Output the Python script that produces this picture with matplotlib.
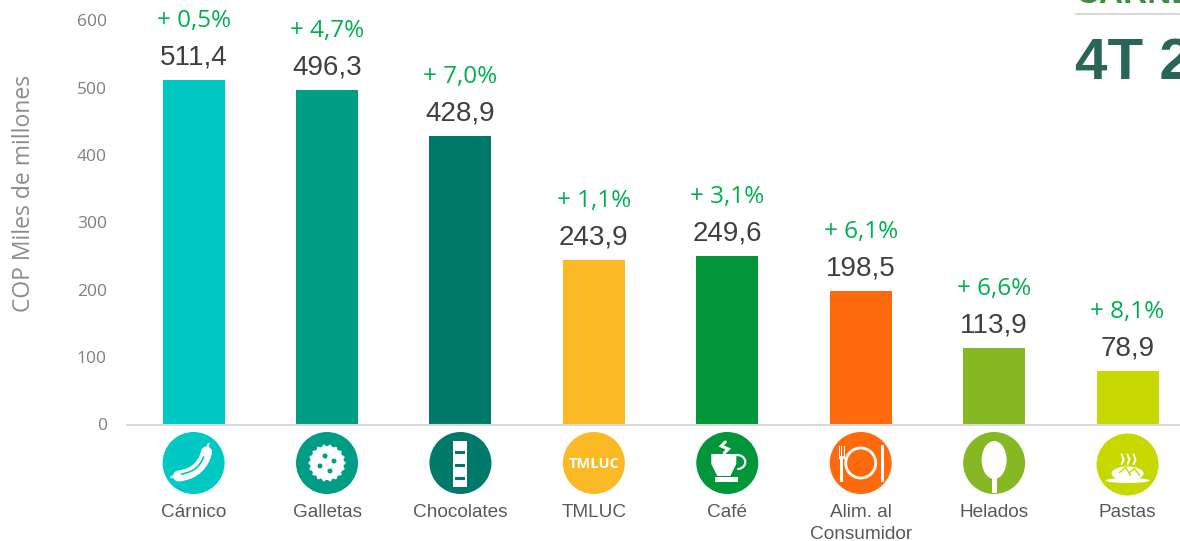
import math
import matplotlib
matplotlib.use("Agg")
import matplotlib.pyplot as plt
from matplotlib.patches import Ellipse, Rectangle, PathPatch, Circle, Arc
from matplotlib.path import Path

categories = ["Cárnico", "Galletas", "Chocolates", "TMLUC", "Café",
              "Alim. al\nConsumidor", "Helados", "Pastas"]
values = [511.4, 496.3, 428.9, 243.9, 249.6, 198.5, 113.9, 78.9]
changes = ["+ 0,5%", "+ 4,7%", "+ 7,0%", "+ 1,1%", "+ 3,1%", "+ 6,1%", "+ 6,6%", "+ 8,1%"]
colors = ["#00C8C3", "#009D85", "#00796B", "#FBB925", "#009639", "#FF6A0D", "#85B823", "#C5D900"]
yticks = [0, 100, 200, 300, 400, 500, 600]

W, H = 1180, 541
fig = plt.figure(figsize=(W / 100, H / 100), dpi=100)
ax = fig.add_axes([127 / W, 1 - 424.5 / H, 1053 / W, 404 / H])

x = range(len(categories))
ax.bar(x, values, width=0.465, color=colors)
ax.set_xlim(-0.499, 7.393)
ax.set_ylim(0, 600)

# etiquetas de valor y variacion
for i, v in enumerate(values):
    ax.annotate(f"{v:.1f}".replace(".", ","), (i, v), xytext=(0, 11.3), textcoords="offset points",
                ha="center", va="baseline", fontsize=20, color="#404040", family="Liberation Sans")
    ax.annotate(changes[i], (i, v), xytext=(0, 38.3), textcoords="offset points",
                ha="center", va="baseline", fontsize=17.5, color="#00B050", family="Open Sans",
                annotation_clip=False)

# ejes
for s in ["top", "right", "left"]:
    ax.spines[s].set_visible(False)
ax.spines["bottom"].set_color("#D9D9D9")
ax.spines["bottom"].set_linewidth(1.5)
ax.set_yticks(yticks)
ax.tick_params(axis="y", length=0, pad=14.5, labelsize=12.5, labelcolor="#7F7F7F")
for t in ax.get_yticklabels():
    t.set_family("Open Sans")
ax.set_xticks(list(x))
ax.set_xticklabels(categories, fontsize=13.7, color="#595959", family="Liberation Sans", linespacing=1.33)
ax.tick_params(axis="x", length=0, pad=57.4)
fig.text(24 / W, 1 - 193 / H, "COP Miles de millones", rotation=90, ha="center", va="center",
         fontsize=16.5, color="#8C8C8C", family="Open Sans")

# titulo cortado a la derecha
fig.text(1075 / W, 1 - 80 / H, "4T 2018", fontsize=42, fontweight="bold", color="#2A6658",
         family="Liberation Sans", ha="left", va="baseline")
fig.text(1076 / W, 1 - 3 / H, "CARNE", fontsize=24, fontweight="bold", color="#3E8E41",
         family="Liberation Sans", ha="left", va="baseline")
fig.add_artist(plt.Line2D([1076 / W, 1], [1 - 13.5 / H, 1 - 13.5 / H], color="#D0D0D0", lw=1.2))

# capa de iconos en pixeles
ic = fig.add_axes([0, 0, 1, 1], zorder=3)
ic.set_xlim(0, W)
ic.set_ylim(H, 0)
ic.axis("off")
ic.patch.set_alpha(0)
WHITE = "white"
CURVE = [Path.MOVETO, Path.CURVE4, Path.CURVE4, Path.CURVE4]


def stroke(pts, lw, color=WHITE, codes=None):
    ic.add_patch(PathPatch(Path(pts, codes), fc="none", ec=color, lw=lw, capstyle="round"))


def sausage(c, y, col):
    stroke([(c - 15, y + 13), (c + 2, y + 11), (c + 10, y + 1), (c + 13, y - 11)], 8, codes=CURVE)
    stroke([(c - 12, y + 11), (c + 1, y + 9), (c + 7, y + 2), (c + 10, y - 6)], 1.2, col, CURVE)
    stroke([(c + 13, y - 14), (c + 15, y - 19)], 1.5)
    stroke([(c - 18, y + 13), (c - 22, y + 14)], 2)


def cookie(c, y, col):
    ic.add_patch(Circle((c, y), 17, fc=WHITE, ec="none"))
    for k in range(18):
        a = 2 * math.pi * k / 18
        ic.add_patch(Circle((c + 17 * math.cos(a), y + 17 * math.sin(a)), 1.6, fc=WHITE, ec="none"))
    for dx, dy in [(-2, -7), (7, -2), (-7, 3), (3, 8)]:
        ic.add_patch(Circle((c + dx, y + dy), 2.5, fc=col, ec="none"))


def choco(c, y, col):
    ic.add_patch(Rectangle((c - 7, y - 22), 14, 46, fc=WHITE, ec="none"))
    for dy in [-11, 2, 15]:
        ic.add_patch(Rectangle((c - 5, y + dy - 1.5), 10, 3, fc=col, ec="none"))


def tmluc(c, y, col):
    ic.text(c, y + 1, "TMLUC", color=WHITE, fontsize=10.5, fontweight="bold", ha="center", va="center",
            family="Open Sans")


def cup(c, y, col):
    pts = [(c - 16, y - 9), (c + 9, y - 9), (c + 9, y + 1), (c + 3, y + 13), (c - 10, y + 13), (c - 16, y + 1)]
    ic.add_patch(PathPatch(Path(pts + [pts[0]], closed=True), fc=WHITE, ec="none"))
    ic.add_patch(Arc((c + 10, y - 1), 16, 14, theta1=-110, theta2=90, ec=WHITE, lw=1.6))
    ic.add_patch(Rectangle((c - 12, y + 14), 23, 5, fc=WHITE, ec="none"))
    stroke([(c - 2, y - 21), (c - 6, y - 17), (c + 1, y - 14), (c - 3, y - 10)], 2.2)


def plate(c, y, col):
    ic.add_patch(Circle((c, y), 15, fc="none", ec=WHITE, lw=2))
    ic.add_patch(Rectangle((c - 20.5, y - 5), 3, 24, fc=WHITE, ec="none"))
    for dx in [-22, -19.5, -17]:
        ic.add_patch(Rectangle((c + dx, y - 17), 1, 12, fc=WHITE, ec="none"))
    ic.add_patch(Rectangle((c - 22, y - 7), 6, 3, fc=WHITE, ec="none"))
    ic.add_patch(Rectangle((c + 20, y - 18), 3.5, 37, fc=WHITE, ec="none"))


def icecream(c, y, col):
    ic.add_patch(Ellipse((c, y - 3), 25, 38, fc=WHITE, ec="none"))
    ic.add_patch(Rectangle((c - 2.5, y + 14), 5, 16, fc=WHITE, ec="none"))


def pasta(c, y, col):
    ic.add_patch(Ellipse((c, y + 16), 44, 5, fc=WHITE, ec="none"))
    ic.add_patch(Ellipse((c, y + 9), 32, 14, fc=WHITE, ec="none"))
    stroke([(c - 8, y + 8), (c - 2, y + 3), (c + 3, y + 11)], 1, col)
    stroke([(c + 2, y + 8), (c + 7, y + 4), (c + 12, y + 11)], 1, col)
    for dx in [-6, 0, 6]:
        stroke([(c + dx, y), (c + dx + 2, y - 5), (c + dx, y - 10)], 1.4)


drawers = [sausage, cookie, choco, tmluc, cup, plate, icecream, pasta]
for i, draw in enumerate(drawers):
    cx = ax.transData.transform((i, 0))[0]
    cy = 464.5 if i == 7 else 463
    ic.add_patch(Ellipse((cx, cy), 62, 62, fc=colors[i], ec="none"))
    draw(cx, cy, colors[i])

fig.savefig("out.png", dpi=100)
